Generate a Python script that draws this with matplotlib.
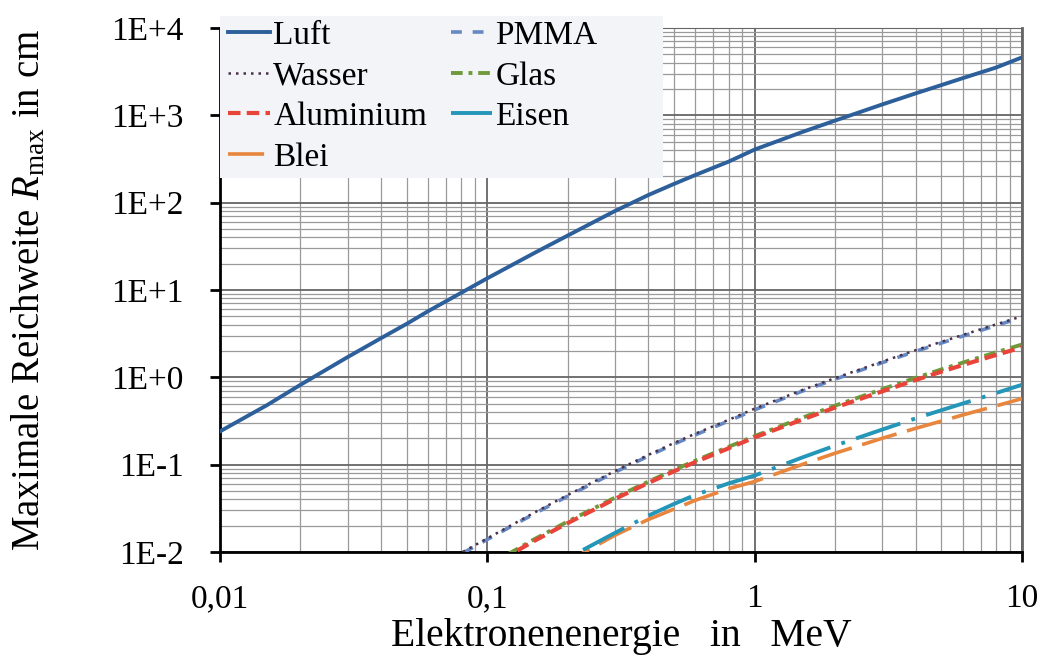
import numpy as np
import matplotlib
matplotlib.use("Agg")
import matplotlib.pyplot as plt
from matplotlib.patches import Rectangle
from matplotlib.ticker import FixedLocator, FixedFormatter, LogLocator, NullFormatter

plt.rcParams['font.family'] = ['Liberation Serif', 'DejaVu Serif']
plt.rcParams['mathtext.fontset'] = 'custom'
plt.rcParams['mathtext.rm'] = 'Liberation Serif'
plt.rcParams['mathtext.it'] = 'Liberation Serif:italic'

# Energie in MeV
energie = [0.01, 0.015, 0.02, 0.03, 0.04, 0.05, 0.06, 0.08, 0.1, 0.15, 0.2, 0.3,
           0.4, 0.5, 0.6, 0.8, 1, 1.5, 2, 3, 4, 5, 6, 8, 10]

# Reichweiten in cm
luft = [0.24, 0.48, 0.82, 1.7, 2.8, 4.1, 5.7, 9.3, 13.6, 26.5, 42, 80,
        122, 164, 207, 295, 405, 640, 870, 1330, 1780, 2220, 2660, 3520, 4600]
wasser = [0.00035, 0.0007, 0.0012, 0.0024, 0.0039, 0.0058, 0.0075, 0.0098, 0.0143, 0.0282, 0.0449, 0.0842,
          0.129, 0.177, 0.226, 0.326, 0.437, 0.71, 0.979, 1.51, 2.04, 2.55, 3.05, 4.03, 5.0]
pmma = [0.00034, 0.00068, 0.00116, 0.0023, 0.0038, 0.0056, 0.0073, 0.0095, 0.0139, 0.0274, 0.0436, 0.0817,
        0.125, 0.172, 0.219, 0.316, 0.424, 0.69, 0.95, 1.47, 1.98, 2.47, 2.96, 3.91, 4.85]
aluminium = [0.00012, 0.00025, 0.0004, 0.0008, 0.0013, 0.0019, 0.0026, 0.0044, 0.0066, 0.0134, 0.0214, 0.0404,
             0.0616, 0.084, 0.107, 0.154, 0.205, 0.326, 0.45, 0.69, 0.93, 1.16, 1.38, 1.80, 2.2]
glas = [0.00013, 0.00026, 0.00042, 0.00084, 0.0014, 0.002, 0.0027, 0.0046, 0.0069, 0.014, 0.0223, 0.0418,
        0.0638, 0.087, 0.111, 0.160, 0.212, 0.342, 0.473, 0.73, 0.985, 1.23, 1.47, 1.93, 2.37]
eisen = [0.00004, 0.00008, 0.00014, 0.00028, 0.00046, 0.0007, 0.001, 0.0017, 0.0026, 0.0052, 0.0085, 0.0165,
         0.026, 0.0355, 0.045, 0.061, 0.075, 0.12, 0.165, 0.252, 0.338, 0.42, 0.5, 0.66, 0.82]
blei = [0.00004, 0.00008, 0.00013, 0.00026, 0.00043, 0.00065, 0.0009, 0.0016, 0.0024, 0.0048, 0.0078, 0.0155,
        0.0235, 0.031, 0.039, 0.053, 0.064, 0.1, 0.135, 0.2, 0.26, 0.315, 0.37, 0.47, 0.57]

fig = plt.figure(figsize=(10.41, 6.61), dpi=100)
ax = fig.add_axes([0.2113, 0.165, 0.7704, 0.7927])

ax.plot(energie, luft, color='#2d5f9a', lw=2.8, label='Luft', zorder=5)
ax.plot(energie, wasser, color='#4a3048', lw=1.8, ls=(0, (1, 2)), label='Wasser', zorder=6)
ax.plot(energie, aluminium, color='#e8443a', lw=3, ls=(0, (3, 1.5)), label='Aluminium', zorder=5)
ax.plot(energie, blei, color='#e8863e', lw=2.6, ls=(0, (10, 3)), label='Blei', zorder=4)
ax.plot(energie, pmma, color='#6688c4', lw=2.6, ls=(0, (3, 3)), label='PMMA', zorder=4)
ax.plot(energie, glas, color='#6e9a3c', lw=2.8, ls=(0, (3, 1.5, 1, 1.5)), label='Glas', zorder=4)
ax.plot(energie, eisen, color='#2496b8', lw=2.8, ls=(0, (12, 3, 1, 3)), label='Eisen', zorder=5)

ax.set_xscale('log')
ax.set_yscale('log')
ax.set_xlim(0.01, 10)
ax.set_ylim(0.01, 10000)

ax.xaxis.set_major_locator(FixedLocator([0.01, 0.1, 1, 10]))
ax.xaxis.set_major_formatter(FixedFormatter(['0,01', '0,1', '1', '10']))
ax.yaxis.set_major_locator(FixedLocator([0.01, 0.1, 1, 10, 100, 1000, 10000]))
ax.yaxis.set_major_formatter(FixedFormatter(['1E-2', '1E-1', '1E+0', '1E+1', '1E+2', '1E+3', '1E+4']))
ax.xaxis.set_minor_locator(LogLocator(base=10, subs=np.arange(2, 10)))
ax.yaxis.set_minor_locator(LogLocator(base=10, subs=np.arange(2, 10)))
ax.xaxis.set_minor_formatter(NullFormatter())
ax.yaxis.set_minor_formatter(NullFormatter())

ax.grid(which='major', color='#666666', lw=1.3)
ax.grid(which='minor', color='#9a9a9a', lw=0.9)
ax.set_axisbelow(True)

ax.tick_params(which='major', direction='out', length=7, width=2, labelsize=24)
ax.tick_params(axis='x', which='major', pad=16)
ax.tick_params(axis='y', which='major', pad=19)
ax.tick_params(which='minor', length=0)
ax.spines['left'].set_linewidth(2)
ax.spines['bottom'].set_linewidth(2)
ax.spines['top'].set_color('#666666')
ax.spines['right'].set_color('#666666')
ax.spines['right'].set_linewidth(2)

ax.set_xlabel('Elektronenenergie   in   MeV', fontsize=28.5)
ax.set_ylabel(r'Maximale Reichweite $R_{\mathrm{max}}$ in cm', fontsize=28)
ax.xaxis.set_label_coords(0.5, -0.126)
ax.yaxis.set_label_coords(-0.214, 0.5)

# heller Hintergrund hinter der Legende
ax.add_patch(Rectangle((0.0, 0.714), 0.552, 0.309, transform=ax.transAxes,
                       facecolor='#f2f4f7', edgecolor='none', clip_on=False, zorder=3))

leg = ax.legend(ncol=2, loc='upper left', bbox_to_anchor=(0.0, 1.03), fontsize=24,
                frameon=False, handlelength=1.25, handletextpad=0.1, columnspacing=0.7,
                labelspacing=0.3, borderaxespad=0.0, borderpad=0.25)
leg.set_zorder(10)

fig.savefig('out.png', dpi=100)
